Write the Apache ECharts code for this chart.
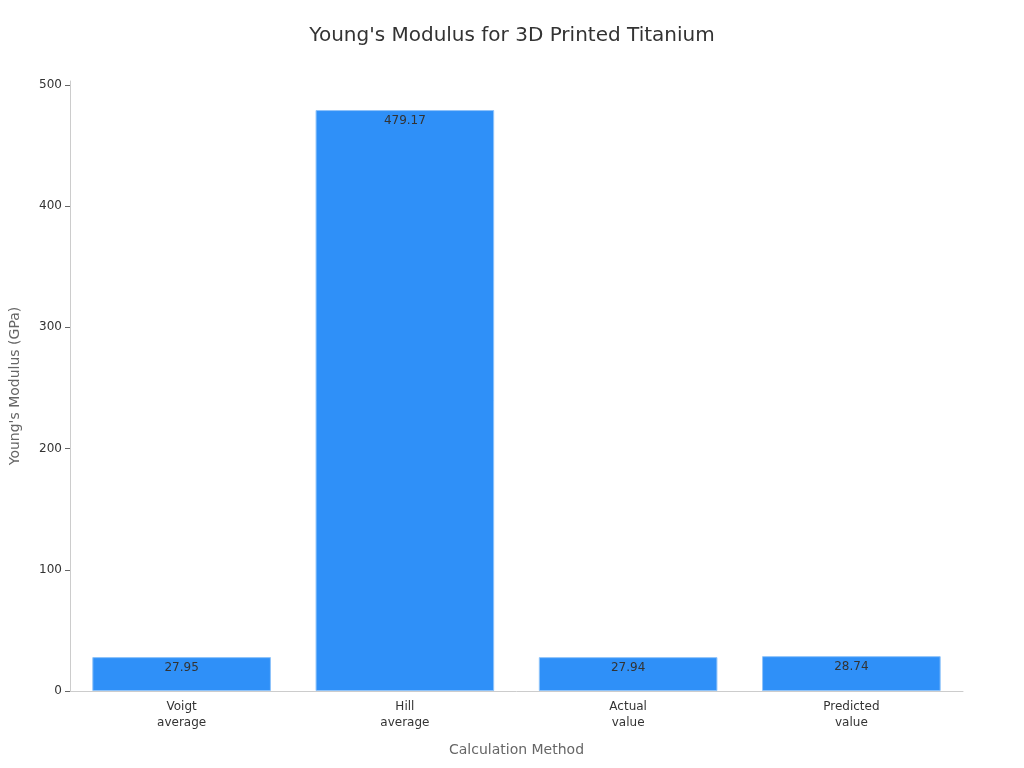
<!DOCTYPE html>
<html><head><meta charset="utf-8">
<script src="https://cdn.jsdelivr.net/npm/echarts@6/dist/echarts.min.js"></script>
<style>html,body{margin:0;padding:0;background:#fff}#c{width:1024px;height:768px}</style>
</head><body><div id="c"></div>
<script>
const categories = ["Voigt\naverage", "Hill\naverage", "Actual\nvalue", "Predicted\nvalue"];
const modulusValues = [27.95, 479.17, 27.94, 28.74];
const yTicks = [0, 100, 200, 300, 400, 500];

const chart = echarts.init(document.getElementById('c'));
chart.setOption({
  textStyle: {fontFamily: 'DejaVu Sans'},
  title: {text: "Young's Modulus for 3D Printed Titanium", left: 'center', top: 21,
    textStyle: {fontSize: 20, fontWeight: 'normal', color: '#333', fontFamily: 'DejaVu Sans'}},
  grid: {left: 67, right: 61, top: 81, bottom: 77},
  xAxis: {type: 'category', data: categories, name: 'Calculation Method', nameLocation: 'middle', nameGap: 52,
    nameTextStyle: {fontSize: 14, color: '#666'},
    axisLine: {lineStyle: {color: '#ccc'}},
    axisTick: {alignWithLabel: true, lineStyle: {color: '#666'}},
    axisLabel: {color: '#333', fontSize: 12, lineHeight: 16}},
  yAxis: {type: 'value', min: 0, max: function(v){return v.max * 1.05;}, interval: 100,
    name: "Young's Modulus (GPa)", nameLocation: 'middle', nameGap: 48,
    nameTextStyle: {fontSize: 14, color: '#666'},
    axisLine: {show: true, lineStyle: {color: '#ccc'}},
    axisTick: {show: true, lineStyle: {color: '#666'}},
    axisLabel: {color: '#333', fontSize: 12, showMaxLabel: false,
      formatter: function(v){ return yTicks.indexOf(v) >= 0 ? String(v) : ''; }},
    splitLine: {show: false}},
  series: [{type: 'bar', data: modulusValues, barWidth: '80%',
    itemStyle: {color: '#2F90F8', borderColor: '#8EC3FA', borderWidth: 1},
    label: {show: true, position: 'insideTop', color: '#333', fontSize: 12,
      formatter: function(p){ return p.value.toFixed(2); }}}]
});
</script></body></html>
